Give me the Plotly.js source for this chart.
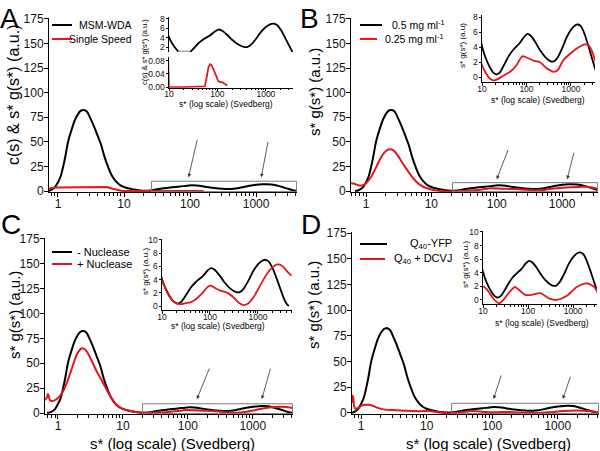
<!DOCTYPE html>
<html><head><meta charset="utf-8">
<script src="https://cdn.plot.ly/plotly-3.0.1.min.js"></script>
<style>html,body{margin:0;padding:0;background:#fff}#chart{width:600px;height:451px}</style>
</head><body><div id="chart"></div>
<script>
// ---- data (s* in Svedberg, values in a.u.) ----
const blackS = [0.68,0.75,0.8,0.9,1.0,1.1,1.2,1.3,1.4,1.5,1.6,1.8,2.0,2.2,2.4,2.6,2.8,3.0,3.5,4.0,4.5,5.0,5.7,6.5,7.5,8.7,10,12,15,18,21,25,30,40,50,70,90,105,125,160,200,270,350,420,500,650,800,1000,1250,1450,1700,2000,2500,3000,3500,4000,4400];
const blackV = [0,0.6,1.3,4,9,15,25,36,48,56,62,72,78,81.5,82.5,82,80,76,66,56,47,36,25,16,10,6,4.1,2.6,1.3,0.6,0.35,0.6,1.4,2.8,3.6,4.5,5.4,5.75,5.5,4.6,3.6,2.6,2.1,2.1,2.6,4.0,5.3,6.3,6.9,7.0,6.7,5.8,4.0,2.4,1.1,0.3,0];

const redAS = [0.72,0.8,1.0,1.5,2,3,4.5,5.5,6.5,7.8,9,10,20,50,55,60,65,70,75,85,95,105,120,130,140,160];
const redAV = [2,3,3.5,3.7,3.8,4,4.2,4,2.5,1,0.2,0,0,0,0.002,0.03,0.06,0.07,0.068,0.05,0.03,0.017,0.015,0.014,0.01,0.005];

const redBS = [0.59,0.65,0.72,0.8,0.9,1.0,1.1,1.2,1.4,1.6,1.8,2.0,2.3,2.6,3.0,3.5,4.0,5.0,6.0,7.0,8.0,10,12,15,18,22,27,33,45,60,72,82,100,142,200,280,400,500,680,1000,1350,2050,2500,2900,3450,3900];
const redBV = [8,7.5,6.5,5.5,6,8,11,14.5,23,31,37,40.5,42.5,41.5,37,30,24,15,9,5.5,3.5,1.6,0.6,-0.2,-0.45,-0.3,0,0.3,0.8,1.6,2.4,2.8,2.6,2.2,2.0,1.2,0.7,0.9,2.3,3.2,3.8,4.35,4.2,3.6,2.3,1.2];

const redCS = [0.63,0.68,0.7,0.72,0.75,0.8,0.9,1.0,1.2,1.4,1.6,1.8,2.0,2.2,2.4,2.7,3.0,3.5,4.0,4.8,6,7,8,10,12,15,20,25,30,40,50,70,90,105,130,170,230,300,400,500,600,800,1000,1300,1700,2200,2700,3300,4000,5000];
const redCV = [13,16,19,17,13,12,13,15,22,32,43,53,60,64,65,63,58,49,41,32,20,13,8,3.9,2.5,1.2,0.4,0.3,0.4,0.6,1.0,2.0,2.9,3.1,2.7,2.3,2.0,1.4,0.5,0.15,0.3,1.3,2.5,4,5.3,6.1,6.3,6.0,5.3,4.6];

const redDS = [0.725,0.74,0.76,0.78,0.82,0.9,1.0,1.15,1.3,1.5,1.8,2.2,3,4,6,8,10,12,14,18,23,30,37,51,65,86,120,185,310,435,730,1200,2000,2800,3400,4200];
const redDV = [10,17,14,7,4,5,7,8,8,7,5,3.5,2.8,2.3,1.8,1.7,2.0,1.6,1.0,0,-0.5,0.2,1.0,1.9,1.4,0.75,0.75,1.0,0.15,0,0.6,1.9,2.45,2.0,1.4,0.8];

// inset A axis-break marker (grey segment)
const breakS = [15.4, 26];
const breakV = [1.12, 1.12];

// legend labels
const legA = ['MSM-WDA','Single Speed'];
const legB = ['0.5 mg ml<sup>-1</sup>','0.25 mg ml<sup>-1</sup>'];
const legC = ['- Nuclease','+ Nuclease'];
const legD = ['Q<sub>40</sub>-YFP','Q<sub>40</sub> + DCVJ'];

// highlighted regions and arrow heads (s*, value)
const boxLeft = [26, 21, 20, 24];
const boxTop = [10, 8.5, 9.3, 9.4];
const arrowHeadS = [[95,1200],[100,1200],[138,1380],[105,1200]];
const arrowHeadV = [14, 12, 14, 13.6];

// ---- layout helpers ----
const W=600, H=451;
const dx=(a,b)=>[a/W,b/W];
const dy=(t,b)=>[1-b/H,1-t/H];
const BLK='#000', RED='#e3161d';
const FONT='Arial, Liberation Sans, sans-serif';

function tr(x,y,xa,ya,color,w,shape){
  return {x:x,y:y,xaxis:xa,yaxis:ya,mode:'lines',showlegend:false,hoverinfo:'skip',
    line:{color:color,width:w,shape:shape||'spline',smoothing:0.7}};
}
const data = [
  tr(blackS,blackV,'x','y',BLK,2), tr(redAS,redAV,'x','y',RED,2,'linear'),
  tr(blackS,blackV,'x2','y2',BLK,2), tr(redBS,redBV,'x2','y2',RED,2),
  tr(blackS,blackV,'x3','y3',BLK,2), tr(redCS,redCV,'x3','y3',RED,2),
  tr(blackS,blackV,'x4','y4',BLK,2), tr(redDS,redDV,'x4','y4',RED,2),
  tr(blackS,blackV,'x5','y5',BLK,1.8), tr(breakS,breakV,'x5','y5','#aaa',1.8,'linear'),
  tr(redAS,redAV,'x5','y6',RED,1.8,'linear'),
  tr(blackS,blackV,'x7','y7',BLK,1.8), tr(redBS,redBV,'x7','y7',RED,1.8),
  tr(blackS,blackV,'x8','y8',BLK,1.8), tr(redCS,redCV,'x8','y8',RED,1.8),
  tr(blackS,blackV,'x9','y9',BLK,1.8), tr(redDS,redDV,'x9','y9',RED,1.8)
];

function mainX(dom,rng,anchor){
  return {domain:dom,range:rng,type:'log',anchor:anchor,showline:true,linecolor:BLK,linewidth:1,
    ticks:'outside',ticklen:4,tickcolor:BLK,dtick:1,showgrid:false,zeroline:false,exponentformat:'none',
    ticklabelstandoff:-3,
    tickfont:{family:FONT,size:12,color:'#111'},
    minor:{ticks:'outside',ticklen:2.5,tickcolor:BLK,dtick:'D1',showgrid:false}};
}
function mainY(dom,rng,anchor){
  return {domain:dom,range:rng,anchor:anchor,showline:true,linecolor:BLK,linewidth:1,
    ticks:'outside',ticklen:4,tickcolor:BLK,tick0:0,dtick:25,showgrid:false,zeroline:false,
    ticklabelstandoff:-2,
    tickfont:{family:FONT,size:12,color:'#111'}};
}
function insX(dom,rng,anchor){
  return {domain:dom,range:rng,type:'log',anchor:anchor,showline:true,linecolor:BLK,linewidth:1,
    ticks:'outside',ticklen:2.5,tickcolor:BLK,dtick:1,showgrid:false,zeroline:false,exponentformat:'none',
    ticklabelstandoff:-4,
    tickfont:{family:FONT,size:8.5,color:'#111'},
    minor:{ticks:'outside',ticklen:1.5,tickcolor:BLK,dtick:'D1',showgrid:false}};
}
function insY(dom,rng,anchor,dt,fmt){
  const o={domain:dom,range:rng,anchor:anchor,showline:true,linecolor:BLK,linewidth:1,
    ticks:'outside',ticklen:2.5,tickcolor:BLK,tick0:0,dtick:dt,showgrid:false,zeroline:false,
    ticklabelstandoff:-1,
    tickfont:{family:FONT,size:8.5,color:'#111'}};
  if(fmt) o.tickformat=fmt;
  return o;
}

const xr = [[-0.136,3.62],[-0.23,3.55],[-0.2,3.62],[-0.14,3.63]];
const layout = {
  width:W,height:H,margin:{l:0,r:0,t:0,b:0},paper_bgcolor:'#fff',plot_bgcolor:'rgba(0,0,0,0)',showlegend:false,
  xaxis: mainX(dx(49,297),xr[0],'y'),  yaxis: mainY(dy(18,192),[-1,176],'x'),
  xaxis2:mainX(dx(351,598),xr[1],'y2'), yaxis2:mainY(dy(18,192),[-1,176],'x2'),
  xaxis3:mainX(dx(45,293),xr[2],'y3'),  yaxis3:mainY(dy(238,414),[-1,176],'x3'),
  xaxis4:mainX(dx(352,599),xr[3],'y4'), yaxis4:mainY(dy(232,414),[-1,176],'x4'),
  xaxis5:insX(dx(169,293),[1,3.56],'y6'),
  yaxis5:insY(dy(17,52),[1,8.4],'x5',2),
  yaxis6:insY(dy(57,87.7),[-0.002,0.092],'x5',0.04,'.2f'),
  xaxis7:insX(dx(482,595),[1,3.54],'y7'), yaxis7:insY(dy(14.75,82.3),[-0.7,8.3],'x7',2),
  xaxis8:insX(dx(162,292),[1,3.71],'y8'), yaxis8:insY(dy(239.3,310),[-0.6,10.1],'x8',2),
  xaxis9:insX(dx(483,597),[1,3.53],'y9'), yaxis9:insY(dy(231.3,304),[-0.6,10.1],'x9',2),
  shapes:[], annotations:[]
};

// highlight boxes
const axn=['','2','3','4'];
for(let i=0;i<4;i++){
  layout.shapes.push({type:'rect',xref:'x'+axn[i],yref:'y'+axn[i],x0:boxLeft[i],x1:Math.pow(10,xr[i][1]-0.006),
    y0:-0.6,y1:boxTop[i],line:{color:'#7a7a7a',width:1},fillcolor:'rgba(0,0,0,0)'});
}
// arrows
const tailOff=[[[9,-39],[7,-37]],[[12,-31],[7,-28]],[[13,-32],[9,-32]],[[8,-25],[8,-24]]];
for(let i=0;i<4;i++){
  for(let k=0;k<2;k++){
    layout.annotations.push({xref:'x'+axn[i],yref:'y'+axn[i],x:Math.log10(arrowHeadS[i][k]),y:arrowHeadV[i],
      ax:tailOff[i][k][0],ay:tailOff[i][k][1],text:'',showarrow:true,arrowhead:2,arrowsize:0.9,arrowwidth:0.8,
      arrowcolor:'#333',standoff:0});
  }
}
function txt(x,y,t,size,opts){
  return Object.assign({xref:'paper',yref:'paper',x:x/W,y:1-y/H,text:t,showarrow:false,
    font:{family:FONT,size:size,color:'#000'},xanchor:'center',yanchor:'middle'},opts||{});
}
// panel letters
layout.annotations.push(txt(-2,18,'A',28,{xanchor:'left'}));
layout.annotations.push(txt(298,18,'B',28,{xanchor:'left'}));
layout.annotations.push(txt(-1,224,'C',28,{xanchor:'left'}));
layout.annotations.push(txt(299,224,'D',28,{xanchor:'left'}));
// main axis titles
layout.annotations.push(txt(13,95,'c(s) &amp; s* g(s*) (a.u.)',16,{textangle:-90}));
layout.annotations.push(txt(314,92,'s* g(s*) (a.u.)',15,{textangle:-90}));
layout.annotations.push(txt(14,315,'s* g(s*) (a.u.)',15,{textangle:-90}));
layout.annotations.push(txt(313,305,'s* g(s*) (a.u.)',15,{textangle:-90}));
layout.annotations.push(txt(172,443,'s* (log scale) (Svedberg)',15));
layout.annotations.push(txt(489,443,'s* (log scale) (Svedberg)',15));
// inset titles
layout.annotations.push(txt(226,104,'s* (log scale) (Svedberg)',8.5));
layout.annotations.push(txt(145,52,'c(s) &amp; s* g(s*) (a.u.)',7.5,{textangle:-90}));
layout.annotations.push(txt(538,100,'s* (log scale) (Svedberg)',8.5));
layout.annotations.push(txt(463,45,'s* g(s*) (a.u)',8,{textangle:-90}));
layout.annotations.push(txt(218,326,'s* (log scale) (Svedberg)',8.5));
layout.annotations.push(txt(145,272,'s* g(s*) (a.u.)',8,{textangle:-90}));
layout.annotations.push(txt(542,323,'s* (log scale) (Svedberg)',8.5));
layout.annotations.push(txt(465,265,'s* g(s*) (a.u.)',8,{textangle:-90}));
// legends
function legLine(x0,x1,y,c){layout.shapes.push({type:'line',xref:'paper',yref:'paper',x0:x0/W,x1:x1/W,y0:1-y/H,y1:1-y/H,line:{color:c,width:2}});}
legLine(52,72,25,BLK); legLine(52,72,39,RED);
layout.annotations.push(txt(134,25,legA[0],10.5,{xanchor:'right'}));
layout.annotations.push(txt(134,39,legA[1],10.5,{xanchor:'right'}));
legLine(360,382,25,BLK); legLine(360,377,39,RED);
layout.annotations.push(txt(390,25,legB[0],10.5,{xanchor:'left'}));
layout.annotations.push(txt(383,39,legB[1],10.5,{xanchor:'left'}));
legLine(52,72,252,BLK); legLine(52,72,264,RED);
layout.annotations.push(txt(75,252,legC[0],11,{xanchor:'left'}));
layout.annotations.push(txt(75,264,legC[1],11,{xanchor:'left'}));
legLine(360,387,244,BLK); legLine(360,385,259,RED);
layout.annotations.push(txt(454,244,legD[0],11,{xanchor:'right'}));
layout.annotations.push(txt(454,259,legD[1],11,{xanchor:'right'}));

Plotly.newPlot('chart',data,layout,{staticPlot:true,displayModeBar:false});
</script></body></html>
